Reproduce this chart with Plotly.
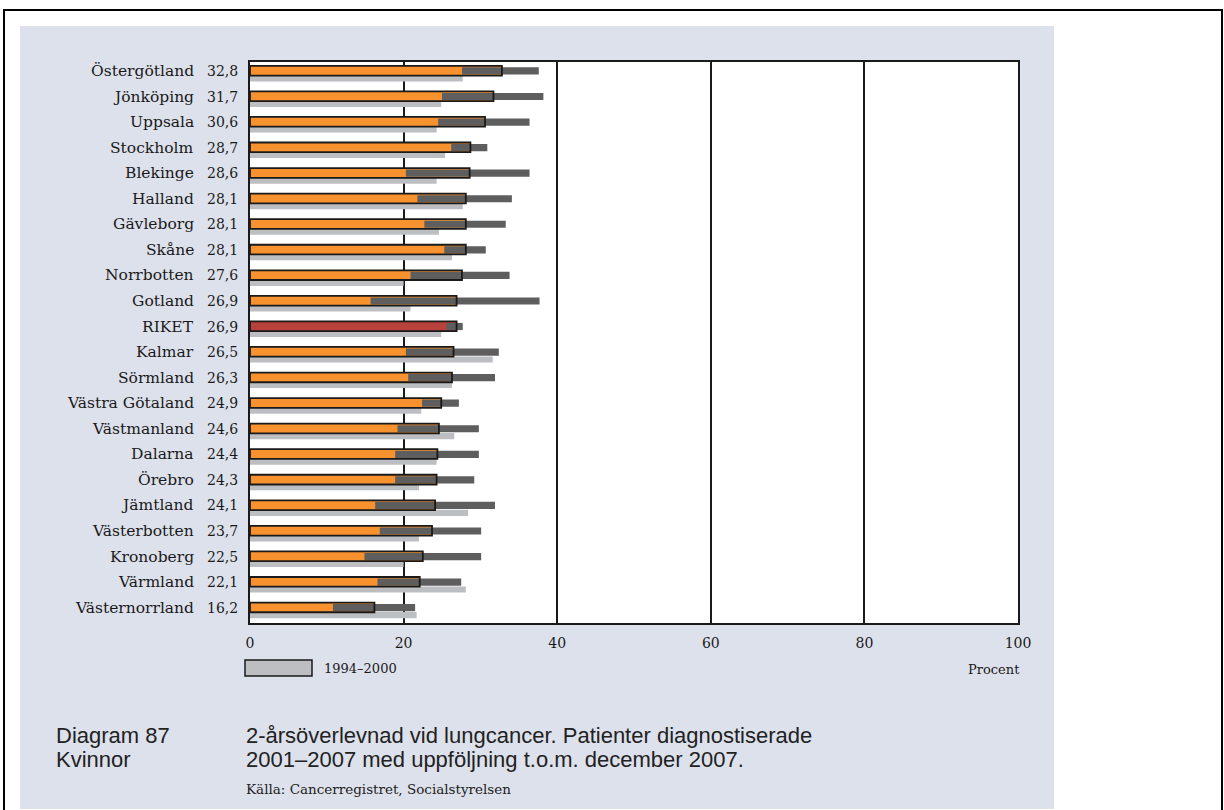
import plotly.graph_objects as go

# Län, sorted by 2-year survival 2001–2007 (women)
regions = ["Östergötland", "Jönköping", "Uppsala", "Stockholm", "Blekinge", "Halland",
           "Gävleborg", "Skåne", "Norrbotten", "Gotland", "RIKET", "Kalmar", "Sörmland",
           "Västra Götaland", "Västmanland", "Dalarna", "Örebro", "Jämtland",
           "Västerbotten", "Kronoberg", "Värmland", "Västernorrland"]
survival = [32.8, 31.7, 30.6, 28.7, 28.6, 28.1, 28.1, 28.1, 27.6, 26.9, 26.9, 26.5, 26.3,
            24.9, 24.6, 24.4, 24.3, 24.1, 23.7, 22.5, 22.1, 16.2]
ci_low = [27.6, 25.0, 24.5, 26.2, 20.3, 21.8, 22.7, 25.3, 20.9, 15.7, 25.6, 20.3, 20.6,
          22.4, 19.2, 18.9, 18.9, 16.3, 16.9, 14.9, 16.6, 10.8]
ci_high = [37.6, 38.2, 36.4, 30.9, 36.4, 34.1, 33.3, 30.7, 33.8, 37.7, 27.7, 32.4, 31.9,
           27.2, 29.8, 29.8, 29.2, 31.9, 30.1, 30.1, 27.5, 21.5]
survival_1994_2000 = [27.7, 24.9, 24.3, 25.4, 24.3, 27.7, 24.6, 26.3, 20.0, 20.9, 24.9,
                      31.6, 26.3, 22.3, 26.6, 24.3, 22.0, 28.4, 22.0, 20.0, 28.1, 21.7]

x_ticks = [0, 20, 40, 60, 80, 100]

ORANGE = "#f7922f"
RED = "#b7413b"
CI_GREY = "#5e5e5e"
OLD_GREY = "#bdbec1"
PANEL = "#dde1ec"
INK = "#1a1a1a"
SERIF = "DejaVu Serif, Liberation Serif, serif"
SANS = "Liberation Sans, Arial, sans-serif"

W, H = 1224, 810
L, R, T, B = 250, W - 1018, 62, H - 623
PW, PH = W - L - R, H - T - B


def px_x(px):
    return (px - L) / PW


def px_y(py):
    return (H - B - py) / PH


pos = list(range(len(regions)))
bar_colors = [RED if r == "RIKET" else ORANGE for r in regions]

fig = go.Figure()

# 1994–2000 bars sit just under each current bar
fig.add_trace(go.Bar(
    y=pos, x=survival_1994_2000, orientation="h", offset=0.17, width=0.24,
    marker=dict(color=OLD_GREY, line=dict(width=0)), hoverinfo="skip", showlegend=False))

# current survival bars
fig.add_trace(go.Bar(
    y=pos, x=survival, orientation="h", offset=-0.2, width=0.38,
    marker=dict(color=bar_colors, line=dict(width=0)), hoverinfo="skip", showlegend=False))

# confidence intervals
fig.add_trace(go.Bar(
    y=pos, x=[h - l for l, h in zip(ci_low, ci_high)], base=ci_low, orientation="h",
    offset=-0.14, width=0.28,
    marker=dict(color=CI_GREY, line=dict(width=0)), hoverinfo="skip", showlegend=False))

# outline of the current bars on top
fig.add_trace(go.Bar(
    y=pos, x=survival, orientation="h", offset=-0.2, width=0.38,
    marker=dict(color="rgba(0,0,0,0)", line=dict(color=INK, width=1.8)),
    hoverinfo="skip", showlegend=False))

name_font = dict(family=SERIF, size=15.5, color=INK)
value_font = dict(family=SERIF, size=14, color=INK)
annotations = []
for p, name, val in zip(pos, regions, survival):
    annotations.append(dict(
        x=px_x(196), xref="paper", y=p, yref="y", text=name, showarrow=False,
        xanchor="right", yanchor="middle", font=name_font))
    annotations.append(dict(
        x=px_x(205), xref="paper", y=p, yref="y", text=f"{val:.1f}".replace(".", ","),
        showarrow=False, xanchor="left", yanchor="middle", font=value_font))

caption_font = dict(family=SANS, size=22, color="#222222")
annotations += [
    dict(x=px_x(322), xref="paper", y=px_y(668), yref="paper", text="1994–2000",
         showarrow=False, xanchor="left", yanchor="middle",
         font=dict(family=SERIF, size=13, color=INK)),
    dict(x=px_x(1022), xref="paper", y=px_y(669), yref="paper", text="Procent",
         showarrow=False, xanchor="right", yanchor="middle",
         font=dict(family=SERIF, size=13, color=INK)),
    dict(x=px_x(54), xref="paper", y=px_y(735), yref="paper", text="Diagram 87",
         showarrow=False, xanchor="left", yanchor="middle", font=caption_font),
    dict(x=px_x(54), xref="paper", y=px_y(759), yref="paper", text="Kvinnor",
         showarrow=False, xanchor="left", yanchor="middle", font=caption_font),
    dict(x=px_x(244), xref="paper", y=px_y(735), yref="paper",
         text="2-årsöverlevnad vid lungcancer. Patienter diagnostiserade",
         showarrow=False, xanchor="left", yanchor="middle", font=caption_font),
    dict(x=px_x(244), xref="paper", y=px_y(759), yref="paper",
         text="2001–2007 med uppföljning t.o.m. december 2007.",
         showarrow=False, xanchor="left", yanchor="middle", font=caption_font),
    dict(x=px_x(244), xref="paper", y=px_y(789), yref="paper",
         text="Källa: Cancerregistret, Socialstyrelsen",
         showarrow=False, xanchor="left", yanchor="middle",
         font=dict(family=SERIF, size=13.5, color="#222222")),
]

shapes = [
    # outer frame
    dict(type="rect", xref="paper", yref="paper", x0=px_x(4), x1=px_x(1222),
         y0=px_y(10), y1=px_y(812), line=dict(color="black", width=2),
         fillcolor="white", layer="below"),
    # tinted panel
    dict(type="rect", xref="paper", yref="paper", x0=px_x(20), x1=px_x(1054),
         y0=px_y(26), y1=px_y(809), line=dict(width=0), fillcolor=PANEL, layer="below"),
    # white plotting area
    dict(type="rect", xref="x domain", yref="y domain", x0=0, x1=1, y0=0, y1=1,
         line=dict(width=0), fillcolor="white", layer="below"),
    # legend swatch
    dict(type="rect", xref="paper", yref="paper", x0=px_x(245), x1=px_x(312),
         y0=px_y(660), y1=px_y(676), line=dict(color=INK, width=1.5),
         fillcolor=OLD_GREY),
]

fig.update_layout(
    width=W, height=H,
    margin=dict(l=L, r=R, t=T, b=B),
    paper_bgcolor="white", plot_bgcolor="white",
    barmode="overlay",
    xaxis=dict(range=[0, 100], tickvals=x_ticks, ticktext=[str(v) for v in x_ticks],
               showgrid=True, gridcolor=INK, gridwidth=1.5, zeroline=False,
               showline=True, linecolor=INK, linewidth=2, mirror=True,
               ticks="outside", ticklen=6, tickcolor="rgba(0,0,0,0)",
               tickfont=dict(family=SERIF, size=14, color=INK), fixedrange=True),
    yaxis=dict(range=[21.6, -0.35], showticklabels=False, showgrid=False, zeroline=False,
               showline=True, linecolor=INK, linewidth=2, mirror=True,
               fixedrange=True),
    annotations=annotations,
    shapes=shapes,
)

fig.write_html("out.html")
